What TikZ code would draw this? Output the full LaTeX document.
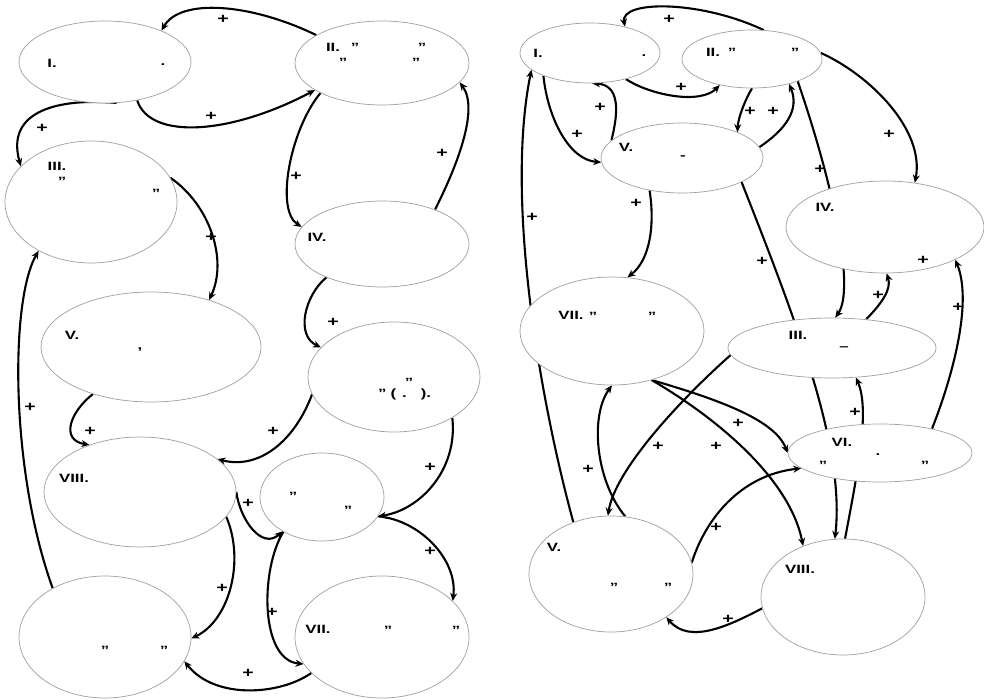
\documentclass[tikz,border=0pt]{standalone}
\usepackage{fontspec}
\setmainfont{Liberation Sans}[FakeStretch=1.4]
\usetikzlibrary{arrows.meta,backgrounds,shapes.geometric}
\begin{document}
\begin{tikzpicture}[x=1pt,y=-1pt,
  ell/.style={ellipse,draw=gray!75,line width=0.7pt,fill=white,inner sep=0pt},
  edge/.style={line width=2.1pt,-{Stealth[length=8pt,width=7pt]}},
  plus/.style={font=\bfseries\fontsize{14}{14}\selectfont,inner sep=0pt},
  txt/.style={font=\bfseries\fontsize{12}{12}\selectfont,inner sep=0pt},
  qt/.style={txt,yshift=-3pt}]
\useasboundingbox (0,0) rectangle (984,700);
% ---------- left panel ellipses ----------
\node[ell,minimum width=172pt,minimum height=82pt] (L1) at (105,62) {};
\node[ell,minimum width=174pt,minimum height=84pt] (L2) at (382,63) {};
\node[ell,minimum width=172pt,minimum height=122pt] (L3) at (91,202) {};
\node[ell,minimum width=174pt,minimum height=86pt] (L4) at (382,244) {};
\node[ell,minimum width=220pt,minimum height=110pt] (L5) at (151,347) {};
\node[ell,minimum width=172pt,minimum height=110pt] (L6) at (394,377) {};
\node[ell,minimum width=192pt,minimum height=110pt] (L7) at (140,492) {};
\node[ell,minimum width=124pt,minimum height=88pt] (L8) at (322,497) {};
\node[ell,minimum width=172pt,minimum height=122pt] (L9) at (105,637) {};
\node[ell,minimum width=174pt,minimum height=122pt] (L10) at (382,637) {};
% ---------- right panel ellipses ----------
\node[ell,minimum width=140pt,minimum height=60pt] (R1) at (590,53) {};
\node[ell,minimum width=140pt,minimum height=58pt] (R2) at (752,59) {};
\node[ell,minimum width=162pt,minimum height=70pt] (R3) at (682,158) {};
\node[ell,minimum width=198pt,minimum height=92pt] (R4) at (885,227) {};
\node[ell,minimum width=184pt,minimum height=108pt] (R5) at (612,331) {};
\node[ell,minimum width=208pt,minimum height=60pt] (R6) at (832,348) {};
\node[ell,minimum width=184pt,minimum height=58pt] (R7) at (880,453) {};
\node[ell,minimum width=164pt,minimum height=116pt] (R8) at (611,574) {};
\node[ell,minimum width=164pt,minimum height=116pt] (R9) at (843,597) {};
% ---------- texts in ellipses ----------
\node[txt] (t1a) at (52,63) {I.};
\node[txt] (t1b) at (163,65) {.};
\node[txt] (t2a) at (333,47) {II.};
\node[qt] (t2b) at (355,44) {”};
\node[qt] (t2c) at (422,44) {”};
\node[qt] (t2d) at (343,59) {”};
\node[qt] (t2e) at (416,59) {”};
\node[txt] (t3a) at (57,166) {III.};
\node[qt] (t3b) at (62,178) {”};
\node[qt] (t3c) at (156,190) {”};
\node[txt] (t4a) at (317,237) {IV.};
\node[txt] (t5a) at (72,335) {V.};
\node[txt] (t5b) at (140,350) {,};
\node[qt] (t6a) at (409,379) {”};
\node[txt,anchor=west] (t6b) at (378,394) {”\,\,(\,\,\,.\,\,\,\,\,\,\,).};
\node[txt] (t7a) at (74,478) {VIII.};
\node[qt] (t8a) at (293,493) {”};
\node[qt] (t8b) at (348,507) {”};
\node[qt] (t9a) at (105,647) {”};
\node[qt] (t9b) at (164,647) {”};
\node[txt] (t10a) at (318,629) {VII.};
\node[qt] (t10b) at (388,627) {”};
\node[qt] (t10c) at (456,627) {”};
\node[txt] (s1a) at (538,53) {I.};
\node[txt] (s1b) at (644,56) {.};
\node[txt] (s2a) at (713,52) {II.};
\node[qt] (s2b) at (732,49) {”};
\node[qt] (s2c) at (795,49) {”};
\node[txt] (s3a) at (626,147) {V.};
\node[txt] (s3b) at (683,158) {-};
\node[txt] (s4a) at (825,207) {IV.};
\node[txt] (s5a) at (571,315) {VII.};
\node[qt] (s5b) at (593,313) {”};
\node[qt] (s5c) at (652,313) {”};
\node[txt] (s6a) at (798,335) {III.};
\node[txt] (s6b) at (844,349) {–};
\node[txt] (s7a) at (842,442) {VI.};
\node[qt] (s7b) at (823,462) {”};
\node[txt] (s7c) at (878,455) {.};
\node[qt] (s7d) at (925,462) {”};
\node[txt] (s8a) at (554,547) {V.};
\node[qt] (s8b) at (614,584) {”};
\node[qt] (s8c) at (668,584) {”};
\node[txt] (s9a) at (800,569) {VIII.};
% ---------- connectors ----------
\begin{pgfonlayer}{background}
\fill[white] (0,0) rectangle (984,700);
\draw[edge] (L2.157) .. controls (250,3) and (180,-2) .. (L1.29);
\draw[edge] (L1.-50) .. controls (150,140) and (230,135) .. (L2.-158);
\draw[edge] (L1.-74) .. controls (60,98) and (5,110) .. (L3.153);
\draw[edge] (L2.-154) .. controls (290,130) and (275,210) .. (L4.168);
\draw[edge] (L4.33) .. controls (455,170) and (480,110) .. (L2.-14);
\draw[edge] (L3.17) .. controls (210,205) and (228,260) .. (L5.39);
\draw[edge] (L4.-149) .. controls (305,295) and (295,335) .. (L6.158);
\draw[edge] (L5.-141) .. controls (70,412) and (60,440) .. (L7.137);
\draw[edge] (L6.-168) .. controls (295,440) and (260,470) .. (L7.23);
\draw[edge] (L9.137) .. controls (10,470) and (10,300) .. (L3.-137);
\draw[edge] (L6.-35) .. controls (458,470) and (420,510) .. (L8.-19);
\draw[edge] (L8.-19) .. controls (420,520) and (458,560) .. (L10.27);
\draw[edge] (L7.0) .. controls (240,520) and (262,550) .. (L8.-139);
\draw[edge] (L7.-16) .. controls (245,560) and (230,620) .. (L9.-1);
\draw[edge] (L8.-138) .. controls (260,570) and (260,660) .. (L10.-161);
\draw[edge] (L10.-153) .. controls (280,695) and (215,700) .. (L9.-17);
% right
\draw[edge] (R2.68) .. controls (700,0) and (620,0) .. (R1.37);
\draw[edge] (R1.-36) .. controls (650,95) and (700,105) .. (R2.-141);
\draw[edge] (R3.166) .. controls (615,125) and (625,85) .. (R1.-86);
\draw[edge] (R1.-154) .. controls (548,120) and (570,160) .. (R3.-177);
\draw[edge] (R2.-90) .. controls (745,100) and (738,118) .. (R3.25);
\draw[edge] (R3.8) .. controls (785,130) and (800,110) .. (R2.-34);
\draw[edge] (R2.5) .. controls (870,75) and (925,130) .. (R4.56);
\draw[edge] (R2.-26) .. controls (835,190) and (855,290) .. (R6.84);
\draw[edge] (R3.-135) .. controls (655,225) and (650,260) .. (R5.74);
\draw[edge] (R3.-22) .. controls (800,330) and (845,450) .. (R9.98);
\draw[edge] (R6.40) .. controls (880,305) and (892,290) .. (R4.-88);
\draw[edge] (R7.25) .. controls (955,370) and (972,300) .. (R4.-25);
\draw[edge] (R9.88) .. controls (858,470) and (870,410) .. (R6.-51);
\draw[edge] (R6.-176) .. controls (680,400) and (615,470) .. (R8.93);
\draw[edge] (R8.76) .. controls (595,480) and (590,415) .. (R5.-90);
\draw[edge] (R5.-51) .. controls (720,400) and (775,420) .. (R7.180);
\draw[edge] (R5.-51) .. controls (720,420) and (790,480) .. (R9.128);
\draw[edge] (R8.8) .. controls (705,520) and (740,475) .. (R7.-169);
\draw[edge] (R9.-172) .. controls (730,625) and (690,645) .. (R8.-38);
\draw[edge] (R8.126) .. controls (540,400) and (505,200) .. (R1.-164);
\end{pgfonlayer}
% ---------- plus labels ----------
\foreach \p/\x/\y in {a/223/19, b/211/116, c/42/128, d/296/176, e/442/153, f/211/237,
  g/333/322, h/90/431, i/273/431, j/30/407, k/430/467, l/430/551, m/248/503,
  n/222/588, o/272/612, q/248/673,
  A/669/19, B/681/87, C/600/107, D/577/134, E/750/111, F/773/111, G/889/134,
  H/820/169, I/636/203, J/762/261, K/923/260, L/878/295, M/958/307, N/855/412,
  O/658/446, P/588/469, Q/738/423, R/716/446, S/716/527, T/728/619, U/532/217}
  \node[plus] (plus\p) at (\x,\y) {+};
\end{tikzpicture}
\end{document}
